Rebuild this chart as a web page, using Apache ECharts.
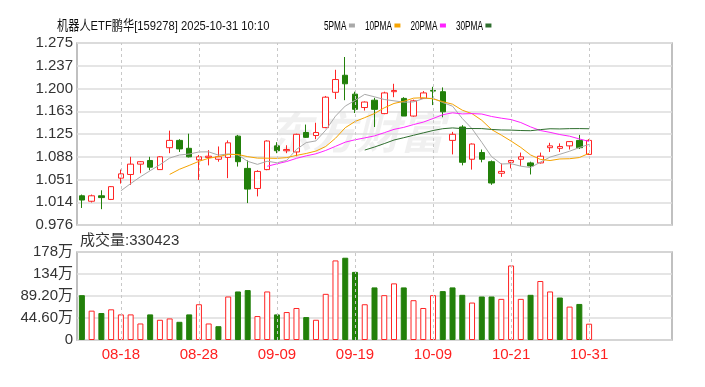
<!DOCTYPE html>
<html><head><meta charset="utf-8">
<script src="https://cdn.jsdelivr.net/npm/echarts@6/dist/echarts.min.js"></script>
<style>html,body{margin:0;padding:0;background:#fff}#c{width:705px;height:387px}</style>
</head><body><div id="c"></div>
<script>
const dates = ['08-12','08-13','08-14','08-15','08-18','08-19','08-20','08-21','08-22','08-25','08-26','08-27','08-28','08-29',
  '09-01','09-02','09-03','09-04','09-05','09-08','09-09','09-10','09-11','09-12','09-15','09-16','09-17','09-18','09-19',
  '09-22','09-23','09-24','09-25','09-26','09-29','09-30','10-09','10-10','10-13','10-14','10-15','10-16','10-17',
  '10-20','10-21','10-22','10-23','10-24','10-27','10-28','10-29','10-30','10-31'];
const emptySlots = ['11-03','11-04','11-05','11-06','11-07','11-10','11-11','11-12'];
const opens = [1.024,1.015,1.024,1.018,1.053,1.059,1.076,1.082,1.067,1.103,1.115,1.102,1.083,1.087,1.084,1.087,1.122,1.069,1.036,1.067,1.106,1.098,1.096,1.128,1.123,1.136,1.194,1.222,1.191,1.169,1.181,1.159,1.195,1.184,1.155,1.184,1.197,1.195,1.115,1.137,1.084,1.095,1.080,1.061,1.079,1.084,1.078,1.078,1.103,1.102,1.106,1.115,1.092];
const closes = [1.017,1.024,1.021,1.039,1.060,1.076,1.080,1.071,1.088,1.115,1.101,1.088,1.088,1.089,1.088,1.111,1.080,1.035,1.064,1.114,1.098,1.100,1.125,1.120,1.128,1.186,1.215,1.208,1.166,1.178,1.166,1.193,1.197,1.155,1.180,1.193,1.196,1.162,1.125,1.079,1.109,1.084,1.045,1.064,1.082,1.088,1.073,1.089,1.106,1.105,1.113,1.103,1.115];
const highs = [1.026,1.026,1.033,1.040,1.067,1.088,1.081,1.088,1.089,1.131,1.117,1.126,1.091,1.099,1.105,1.115,1.124,1.082,1.066,1.115,1.112,1.107,1.126,1.141,1.144,1.188,1.231,1.252,1.195,1.179,1.185,1.195,1.208,1.186,1.182,1.196,1.203,1.202,1.129,1.140,1.110,1.100,1.082,1.077,1.083,1.095,1.080,1.095,1.111,1.110,1.114,1.124,1.117];
const lows = [1.004,1.013,1.002,1.017,1.044,1.042,1.061,1.066,1.067,1.094,1.096,1.087,1.050,1.074,1.080,1.053,1.072,1.012,1.023,1.066,1.094,1.094,1.089,1.119,1.117,1.135,1.183,1.181,1.160,1.164,1.137,1.158,1.186,1.155,1.154,1.183,1.173,1.153,1.092,1.074,1.067,1.079,1.042,1.055,1.069,1.073,1.059,1.077,1.096,1.096,1.100,1.101,1.091];
// volume in 万 (10k shares)
const volumes = [90.9,59.5,54.7,62.2,51.9,51.9,33.5,51.9,41.0,43.7,36.9,51.9,72.5,33.5,28.0,88.2,98.4,101.2,48.5,98.4,51.9,56.7,64.9,46.5,41.0,93.6,161.3,166.8,138.1,72.5,106.6,90.9,114.8,106.6,80.7,64.9,90.9,99.1,106.6,91.6,75.9,88.2,88.2,83.4,151.1,83.4,91.6,119.6,98.4,86.1,67.7,73.1,33.0423];
// moving average lines (values start at their first visible point)
const ma5 = [1.0322,1.044,1.0552,1.0652,1.075,1.086,1.091,1.0926,1.096,1.0962,1.0908,1.0928,1.0912,1.0806,1.0756,1.0808,1.0782,1.0822,1.1002,1.1114,1.1142,1.1318,1.1548,1.1714,1.1806,1.1906,1.1866,1.1822,1.18,1.1778,1.1782,1.1836,1.1842,1.1772,1.1712,1.151,1.1342,1.1118,1.0884,1.0762,1.0768,1.0726,1.0704,1.0792,1.0876,1.0922,1.0972,1.1032,1.1084];
const ma10 = [1.0591,1.0675,1.0739,1.0806,1.0856,1.0884,1.0919,1.0919,1.0883,1.0859,1.0858,1.0855,1.0867,1.0904,1.0935,1.0975,1.105,1.1185,1.1358,1.146,1.1524,1.1592,1.1685,1.1757,1.1792,1.1844,1.1851,1.1832,1.1786,1.1745,1.1646,1.1589,1.148,1.1328,1.1237,1.1139,1.1034,1.0911,1.0838,1.0819,1.0845,1.0849,1.0868,1.0938];
const ma20 = [1.0725,1.0765,1.0803,1.0855,1.0896,1.093,1.0985,1.1052,1.1121,1.116,1.1191,1.1224,1.1276,1.1331,1.1364,1.141,1.145,1.1509,1.1572,1.1603,1.1585,1.159,1.1583,1.1543,1.1515,1.1492,1.1443,1.1372,1.1312,1.1282,1.1246,1.1219,1.1174,1.1133];
const ma30 = [1.0991,1.1041,1.1097,1.1156,1.1194,1.1234,1.1273,1.1312,1.1342,1.1355,1.1343,1.1345,1.1344,1.133,1.1321,1.1319,1.1312,1.1309,1.1327,1.1341,1.1338,1.1343,1.1344,1.1341];
const priceTicks = ['0.976','1.014','1.051','1.088','1.125','1.163','1.200','1.237','1.275'];
const volumeTicks = ['0','44.60万','89.20万','134万','178万'];
const volumeTickValues = [0,44.6,89.2,133.8,178.4];
const labelDates = ['08-18','08-28','09-09','09-19','10-09','10-21','10-31'];
const maNames = ['5PMA','10PMA','20PMA','30PMA'];
const titleText = '机器人ETF鹏华[159278] 2025-10-31 10:10';

const UP = '#ff2424', DOWN = '#22800a';
const maColors = ['#a9a9a9', '#f5a300', '#ff22ff', '#2e6e2e'];
const categories = dates.concat(emptySlots);
const lead = (arr) => Array(dates.length - arr.length).fill('-').concat(arr);
const pMin = +priceTicks[0], pMax = +priceTicks[priceTicks.length - 1];
const pStep = (pMax - pMin) / (priceTicks.length - 1);
const vMax = volumeTickValues[volumeTickValues.length - 1];
const vStep = volumeTickValues[1];

const kData = dates.map((d, i) => [opens[i], closes[i], lows[i], highs[i]]);
const volData = volumes.map((v, i) => {
  const ref = i === 0 ? opens[0] : closes[i - 1];
  const up = closes[i] >= ref;
  return { value: v, itemStyle: up ? { color: '#fff', borderColor: UP, borderWidth: 1 } : { color: DOWN, borderColor: DOWN, borderWidth: 1 } };
});
const vLines = {
  silent: true, symbol: 'none', label: { show: false },
  lineStyle: { color: '#c8c8c8', type: [3, 3], width: 1 },
  data: labelDates.map(d => ({ xAxis: d }))
};
const maSeriesData = [ma5, ma10, ma20, ma30];
const maLine = (k) => ({
  name: maNames[k], type: 'line', data: lead(maSeriesData[k]), xAxisIndex: 0, yAxisIndex: 0,
  symbol: 'none', lineStyle: { color: maColors[k], width: 1 }, itemStyle: { color: maColors[k] }, z: 3
});

// condensed header text (title + MA legend)
const measure = (txt, font) => { const c = document.createElement('canvas').getContext('2d'); c.font = font; return c.measureText(txt).width; };
const headFont = "'Liberation Sans','Noto Sans CJK SC',sans-serif";
const header = [];
header.push({ type: 'text', x: 57, y: 26, scaleX: 0.83, silent: true,
  style: { text: titleText, fontSize: 13.5, fontFamily: headFont, fill: '#111', verticalAlign: 'middle', align: 'left' } });
let lx = 324; const lsx = 0.61, lfs = 13.5;
maNames.forEach((n, k) => {
  const w = measure(n, lfs + "px 'Liberation Sans'") * lsx;
  header.push({ type: 'text', x: lx, y: 26, scaleX: lsx, silent: true,
    style: { text: n, fontSize: lfs, fontFamily: headFont, fill: '#000', verticalAlign: 'middle', align: 'left' } });
  header.push({ type: 'rect', silent: true, shape: { x: lx + w + 2.5, y: 23.5, width: 6, height: 4 }, style: { fill: maColors[k] } });
  lx += w + 2.5 + 6 + 10;
});
header.push({ type: 'text', x: 268, y: 110, z: -10, silent: true,
  style: { text: '东方财富', fontSize: 44, fontWeight: 'bold', fontStyle: 'italic', fill: 'rgba(0,0,0,0.06)', fontFamily: "'Noto Sans CJK SC',sans-serif" } });

const chart = echarts.init(document.getElementById('c'), null, { renderer: 'canvas' });
chart.setOption({
  animation: false,
  backgroundColor: '#fff',
  title: [
    { text: '成交量:' + Math.round(volumes[volumes.length - 1] * 10000), left: 80, top: 233, padding: 0,
      textStyle: { fontSize: 15, fontWeight: 'normal', color: '#333', fontFamily: "'Liberation Sans','Noto Sans CJK SC',sans-serif" } }
  ],
  graphic: header,
  grid: [
    { left: 77, right: 33, top: 43, bottom: 162, show: true, borderColor: '#acacac', borderWidth: 1.5, backgroundColor: 'transparent' },
    { left: 77, right: 33, top: 252, bottom: 47, show: true, borderColor: '#acacac', borderWidth: 1.5, backgroundColor: 'transparent' }
  ],
  xAxis: [
    { type: 'category', gridIndex: 0, data: categories, boundaryGap: true,
      axisLine: { show: false }, axisTick: { show: false }, axisLabel: { show: false }, splitLine: { show: false } },
    { type: 'category', gridIndex: 1, data: categories, boundaryGap: true,
      axisLine: { show: false }, axisTick: { show: false }, splitLine: { show: false },
      axisLabel: { show: true, interval: (idx, val) => labelDates.includes(val), color: '#ff2020', fontSize: 15, margin: 7,
        fontFamily: "'Liberation Sans',sans-serif" } }
  ],
  yAxis: [
    { type: 'value', gridIndex: 0, min: pMin, max: pMax, interval: pStep,
      axisLine: { show: false }, axisTick: { show: false },
      splitLine: { show: true, lineStyle: { color: '#dcdcdc', width: 1.5 } },
      axisLabel: { color: '#333', fontSize: 15, margin: 4, fontFamily: "'Liberation Sans',sans-serif",
        formatter: v => priceTicks[Math.round((v - pMin) / pStep)] } },
    { type: 'value', gridIndex: 1, min: 0, max: vMax, interval: vStep,
      axisLine: { show: false }, axisTick: { show: false },
      splitLine: { show: true, lineStyle: { color: '#dcdcdc', width: 1.5 } },
      axisLabel: { color: '#333', fontSize: 15, margin: 4, fontFamily: "'Liberation Sans','Noto Sans CJK SC',sans-serif",
        formatter: v => volumeTicks[Math.round(v / vStep)] } }
  ],
  series: [
    { name: 'K', type: 'candlestick', xAxisIndex: 0, yAxisIndex: 0, data: kData, barWidth: 6,
      itemStyle: { color: '#fff', color0: DOWN, borderColor: UP, borderColor0: DOWN, borderWidth: 1 },
      markLine: vLines, z: 2 },
    maLine(0), maLine(1), maLine(2), maLine(3),
    { name: 'VOL', type: 'bar', xAxisIndex: 1, yAxisIndex: 1, data: volData, barWidth: 6,
      markLine: vLines, z: 2 }
  ]
});
</script></body></html>
